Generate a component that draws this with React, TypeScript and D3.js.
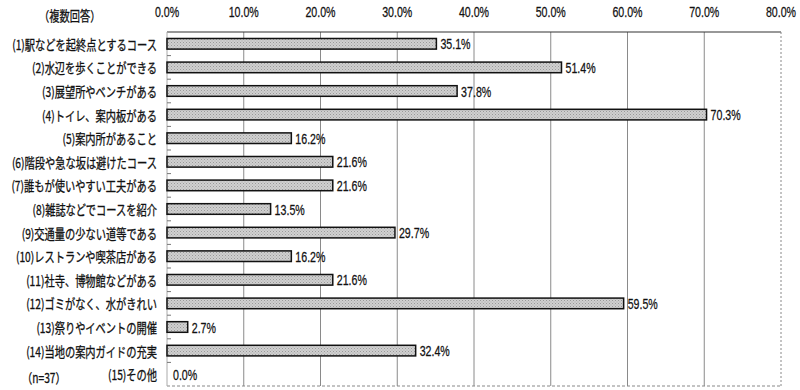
import React from "react";
import * as d3 from "d3";

const categories = [
  "(1)駅などを起終点とするコース",
  "(2)水辺を歩くことができる",
  "(3)展望所やベンチがある",
  "(4)トイレ、案内板がある",
  "(5)案内所があること",
  "(6)階段や急な坂は避けたコース",
  "(7)誰もが使いやすい工夫がある",
  "(8)雑誌などでコースを紹介",
  "(9)交通量の少ない道等である",
  "(10)レストランや喫茶店がある",
  "(11)社寺、博物館などがある",
  "(12)ゴミがなく、水がきれい",
  "(13)祭りやイベントの開催",
  "(14)当地の案内ガイドの充実",
  "(15)その他",
];
const values = [35.1, 51.4, 37.8, 70.3, 16.2, 21.6, 21.6, 13.5, 29.7, 16.2, 21.6, 59.5, 2.7, 32.4, 0.0];
const ticks = [0, 10, 20, 30, 40, 50, 60, 70, 80];
const noteLabel = "（複数回答）";
const nLabel = "（n=37）";

const W = 800;
const H = 390;
const M = { left: 167, right: 19, top: 32, bottom: 4 };

const JP = "'Noto Sans CJK JP', 'Noto Sans', sans-serif";
const NUM = "'Liberation Sans', Arial, sans-serif";
const SXJ = 0.77;
const SXN = 0.76;

export default function App() {
  const x = d3.scaleLinear().domain([0, 80]).range([M.left, W - M.right]);
  const y = d3
    .scaleBand<string>()
    .domain(categories)
    .range([M.top, H - M.bottom])
    .paddingInner(0.55)
    .paddingOuter(0.275);
  const band = d3.scaleBand<string>().domain(categories).range([M.top, H - M.bottom]);
  const fmt = (v: number) => v.toFixed(1) + "%";
  const mid = (c: string) => y(c)! + y.bandwidth() / 2;

  return (
    <svg
      width={W}
      height={H}
      style={{ position: "absolute", left: 0, top: 0, background: "#fff" }}
    >
      <defs>
        <pattern id="dots" width="3" height="3" patternUnits="userSpaceOnUse">
          <rect width="3" height="3" fill="#d0d0d0" />
          <rect x="0" y="0" width="1" height="1" fill="#9a9a9a" />
          <rect x="1.5" y="1.5" width="1" height="1" fill="#a8a8a8" />
        </pattern>
      </defs>
      <rect width={W} height={H} fill="#fff" />
      {/* gridlines */}
      {ticks.slice(1, -1).map((t) => (
        <line
          key={"g" + t}
          x1={x(t)}
          x2={x(t)}
          y1={M.top}
          y2={H - M.bottom}
          stroke="#8a8a8a"
          strokeWidth={1}
        />
      ))}
      {/* frame */}
      <line x1={M.left} x2={W - M.right} y1={M.top} y2={M.top} stroke="#333" strokeWidth={1.2} />
      <line
        x1={W - M.right}
        x2={W - M.right}
        y1={M.top}
        y2={H - M.bottom}
        stroke="#888"
        strokeWidth={1}
        strokeDasharray="2,2"
      />
      <line
        x1={M.left}
        x2={W - M.right}
        y1={H - M.bottom}
        y2={H - M.bottom}
        stroke="#888"
        strokeWidth={1}
        strokeDasharray="3,2"
      />
      <line x1={M.left} x2={M.left} y1={M.top} y2={H - M.bottom} stroke="#aaa" strokeWidth={1} />
      {/* y ticks */}
      {categories.slice(1).map((c) => (
        <line
          key={"t" + c}
          x1={M.left}
          x2={M.left + 4}
          y1={band(c)!}
          y2={band(c)!}
          stroke="#777"
          strokeWidth={1}
        />
      ))}
      {/* x tick labels */}
      {ticks.map((t) => (
        <g key={"x" + t} transform={`translate(${x(t)},17) scale(${SXN},1)`}>
          <text
            textAnchor="middle"
            fontFamily={NUM}
            fontSize={14}
            fill="#111"
            stroke="#111"
            strokeWidth={0.25}
          >
            {t.toFixed(1) + "%"}
          </text>
        </g>
      ))}
      {/* bars */}
      {categories.map((c, i) =>
        values[i] > 0 ? (
          <rect
            key={"b" + c}
            x={x(0)}
            y={y(c)!}
            width={x(values[i]) - x(0)}
            height={y.bandwidth()}
            fill="url(#dots)"
            stroke="#111"
            strokeWidth={1.5}
          />
        ) : null
      )}
      {/* value labels */}
      {categories.map((c, i) => (
        <g
          key={"v" + c}
          transform={`translate(${x(values[i]) + (values[i] > 0 ? 4 : 6)},${mid(c) + 5.5}) scale(${SXN},1)`}
        >
          <text fontFamily={NUM} fontSize={14} fill="#111" stroke="#111" strokeWidth={0.25}>
            {fmt(values[i])}
          </text>
        </g>
      ))}
      {/* category labels */}
      {categories.map((c) => (
        <g key={"c" + c} transform={`translate(157,${mid(c) + 6}) scale(${SXJ},1)`}>
          <text
            textAnchor="end"
            fontFamily={JP}
            fontSize={13.3}
            fill="#111"
            stroke="#111"
            strokeWidth={0.3}
          >
            {c}
          </text>
        </g>
      ))}
      <g transform={`translate(39,21) scale(${SXJ},1)`}>
        <text fontFamily={JP} fontSize={13.3} fill="#111" stroke="#111" strokeWidth={0.3}>
          {noteLabel}
        </text>
      </g>
      <g transform={`translate(22,383) scale(${SXJ},1)`}>
        <text fontFamily={JP} fontSize={13.3} fill="#111" stroke="#111" strokeWidth={0.3}>
          {nLabel}
        </text>
      </g>
    </svg>
  );
}
